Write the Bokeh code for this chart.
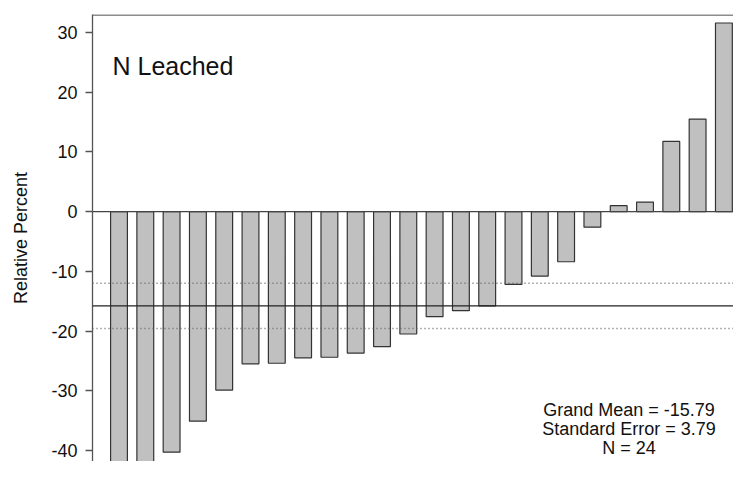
from bokeh.plotting import figure
from bokeh.models import Span, Label, FixedTicker, Range1d, ColumnDataSource
from bokeh.embed import file_html
from bokeh.resources import INLINE

# ---- data ----
bar_index = list(range(1, 25))
relative_percent = [-42.6, -42.1, -40.3, -35.1, -29.9, -25.5, -25.4, -24.5,
                    -24.4, -23.7, -22.6, -20.5, -17.6, -16.6, -15.8, -12.2,
                    -10.8, -8.4, -2.6, 1.0, 1.6, 11.75, 15.5, 31.6]
y_ticks = [-40, -30, -20, -10, 0, 10, 20, 30]
y_tick_labels = ["-40", "-30", "-20", "-10", "0", "10", "20", "30"]
grand_mean = -15.79
std_error = 3.79
n_obs = 24
title_text = "N Leached"
stats_lines = [f"Grand Mean = {grand_mean:.2f}",
               f"Standard Error = {std_error:.2f}",
               f"N = {n_obs}"]

FONT = "Liberation Sans"

src = ColumnDataSource(dict(x=bar_index, top=relative_percent))

p = figure(width=733, height=461, output_backend="svg", toolbar_location=None,
           x_range=Range1d(-0.0076, 24.365), y_range=Range1d(-41.86, 33.02),
           min_border_left=92, min_border_right=0, min_border_top=14,
           min_border_bottom=0)
p.outline_line_color = None
p.grid.visible = False
p.xaxis.visible = False
p.background_fill_color = "white"
p.border_fill_color = "white"

p.vbar(x="x", top="top", bottom=0, width=0.64, source=src,
       fill_color="#c0c0c0", line_color="#333333", line_width=1.2)

# axis
ya = p.yaxis[0]
ya.ticker = FixedTicker(ticks=y_ticks)
ya.major_label_overrides = {t: s for t, s in zip(y_ticks, y_tick_labels)}
ya.major_tick_out = 7
ya.major_tick_in = 0
ya.minor_tick_line_color = None
ya.axis_line_color = "#555555"
ya.axis_line_width = 1.3
ya.major_tick_line_color = "#555555"
ya.major_tick_line_width = 1.3
ya.major_label_text_font = FONT
ya.major_label_text_font_size = "18px"
ya.major_label_text_color = "#111111"
ya.major_label_standoff = 8
ya.axis_label = "Relative Percent"
ya.axis_label_text_font = FONT
ya.axis_label_text_font_size = "18px"
ya.axis_label_text_font_style = "normal"
ya.axis_label_text_color = "#111111"
ya.axis_label_standoff = 17

# reference lines
p.add_layout(Span(location=32.95, dimension="width", line_color="#666666", line_width=1.5))
p.add_layout(Span(location=0, dimension="width", line_color="#444444", line_width=1.3))
p.add_layout(Span(location=grand_mean, dimension="width", line_color="#222222", line_width=1.3))
for loc in (grand_mean + std_error, grand_mean - std_error):
    p.add_layout(Span(location=loc, dimension="width", line_color="#666666",
                      line_width=1.3, line_dash="1 3"))

# texts
p.add_layout(Label(x=0.753, y=24.47, text=title_text, text_font=FONT,
                   text_font_size="25px", text_color="#111111",
                   text_align="left", text_baseline="alphabetic"))
for txt, yy in zip(stats_lines, [-33.15, -36.42, -39.68]):
    p.add_layout(Label(x=20.39, y=yy, text=txt, text_font=FONT,
                       text_font_size="18px", text_color="#111111",
                       text_align="center", text_baseline="alphabetic"))

open("out.html", "w").write(file_html(p, INLINE))
